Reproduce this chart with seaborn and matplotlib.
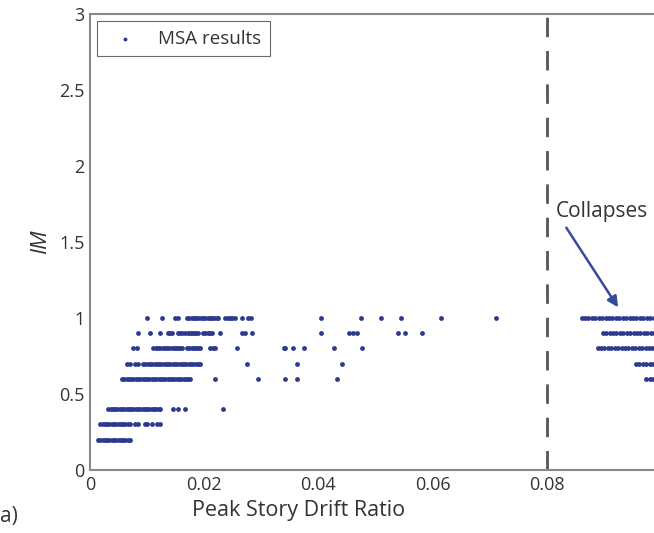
import matplotlib
matplotlib.use('Agg')
import matplotlib.pyplot as plt
import pandas as pd
import numpy as np
import seaborn as sb

# drift ratios, one list per IM level
drift_10 = [0.0100, 0.0126, 0.0149, 0.0154, 0.0170, 0.0174, 0.0178, 0.0182, 0.0186, 0.0190,
            0.0194, 0.0198, 0.0202, 0.0206, 0.0210, 0.0214, 0.0218, 0.0222, 0.0225, 0.0237,
            0.0241, 0.0245, 0.0249, 0.0254, 0.0267, 0.0277, 0.0282, 0.0404, 0.0474, 0.0509,
            0.0544, 0.0614, 0.0711]
drift_09 = [0.0084, 0.0105, 0.0123, 0.0137, 0.0141, 0.0144, 0.0154, 0.0158, 0.0161, 0.0167,
            0.0171, 0.0175, 0.0179, 0.0183, 0.0186, 0.0189, 0.0198, 0.0202, 0.0206, 0.0210,
            0.0214, 0.0228, 0.0267, 0.0272, 0.0284, 0.0404, 0.0453, 0.0460, 0.0468, 0.0540,
            0.0551, 0.0582]
drift_08 = [0.0075, 0.0082, 0.0111, 0.0115, 0.0119, 0.0123, 0.0127, 0.0131, 0.0135, 0.0139,
            0.0143, 0.0147, 0.0151, 0.0155, 0.0158, 0.0161, 0.0170, 0.0174, 0.0178, 0.0182,
            0.0186, 0.0190, 0.0193, 0.0211, 0.0215, 0.0219, 0.0258, 0.0339, 0.0342, 0.0356,
            0.0374, 0.0428, 0.0477]
drift_07 = [0.0065, 0.0070, 0.0079, 0.0084, 0.0093, 0.0097, 0.0101, 0.0105, 0.0109, 0.0113,
            0.0117, 0.0121, 0.0125, 0.0129, 0.0133, 0.0137, 0.0141, 0.0145, 0.0149, 0.0153,
            0.0157, 0.0161, 0.0165, 0.0169, 0.0173, 0.0177, 0.0181, 0.0185, 0.0189, 0.0193,
            0.0275, 0.0363, 0.0442]
drift_06 = [0.0056, 0.0060, 0.0064, 0.0068, 0.0072, 0.0076, 0.0080, 0.0084, 0.0088, 0.0092,
            0.0096, 0.0100, 0.0104, 0.0108, 0.0112, 0.0116, 0.0120, 0.0124, 0.0128, 0.0132,
            0.0136, 0.0140, 0.0144, 0.0148, 0.0152, 0.0156, 0.0160, 0.0164, 0.0168, 0.0172,
            0.0175, 0.0219, 0.0295, 0.0342, 0.0363, 0.0432]
drift_04 = [0.0032, 0.0036, 0.0040, 0.0044, 0.0048, 0.0052, 0.0056, 0.0060, 0.0064, 0.0068,
            0.0072, 0.0076, 0.0080, 0.0084, 0.0088, 0.0092, 0.0096, 0.0100, 0.0104, 0.0108,
            0.0112, 0.0116, 0.0120, 0.0123, 0.0146, 0.0154, 0.0167, 0.0233]
drift_03 = [0.0018, 0.0022, 0.0026, 0.0030, 0.0034, 0.0038, 0.0042, 0.0046, 0.0050, 0.0054,
            0.0058, 0.0062, 0.0066, 0.0070, 0.0079, 0.0084, 0.0096, 0.0100, 0.0109, 0.0118,
            0.0123]
drift_02 = [0.0014, 0.0018, 0.0022, 0.0026, 0.0030, 0.0034, 0.0038, 0.0042, 0.0046, 0.0050,
            0.0054, 0.0058, 0.0062, 0.0066, 0.0070]

# collapsed runs, drawn past the 0.08 line
coll_10 = [0.0861, 0.0867, 0.0873, 0.0879, 0.0885, 0.0891, 0.0897, 0.0903, 0.0909, 0.0915,
           0.0921, 0.0927, 0.0933, 0.0939, 0.0945, 0.0951, 0.0957, 0.0963, 0.0969, 0.0975,
           0.0981, 0.0987, 0.0993]
coll_09 = [0.0898, 0.0904, 0.0910, 0.0916, 0.0922, 0.0928, 0.0934, 0.0940, 0.0946, 0.0952,
           0.0958, 0.0964, 0.0970, 0.0976, 0.0982, 0.0988, 0.0994]
coll_08 = [0.0889, 0.0895, 0.0901, 0.0907, 0.0913, 0.0919, 0.0925, 0.0931, 0.0937, 0.0943,
           0.0949, 0.0955, 0.0961, 0.0967, 0.0973, 0.0979, 0.0985, 0.0991]
coll_07 = [0.0956, 0.0962, 0.0968, 0.0974, 0.0980, 0.0986, 0.0992]
coll_06 = [0.0974, 0.0980, 0.0986, 0.0992]

levels = [1.0, 0.9, 0.8, 0.7, 0.6, 0.4, 0.3, 0.2]
drifts = [drift_10, drift_09, drift_08, drift_07, drift_06, drift_04, drift_03, drift_02]
coll_levels = [1.0, 0.9, 0.8, 0.7, 0.6]
colls = [coll_10, coll_09, coll_08, coll_07, coll_06]

rows = []
for im, d in zip(levels, drifts):
    rows += [(x, im) for x in d]
for im, d in zip(coll_levels, colls):
    rows += [(x, im) for x in d]
df = pd.DataFrame(rows, columns=['drift', 'IM'])

sb.set_style('white')
plt.rcParams['font.family'] = ['Open Sans', 'DejaVu Sans']

fig = plt.figure(figsize=(6.54, 5.33), dpi=100)
ax = fig.add_axes([0.1376, 0.118, 0.873, 0.856])

blue = '#2b3990'
sb.scatterplot(data=df, x='drift', y='IM', ax=ax, color=blue, s=12, linewidth=0,
               marker='o', label='MSA results')
ax.axvline(0.08, color='#555555', lw=2, dashes=(7, 5))

ax.set_xlim(0, 0.1)
ax.set_ylim(0, 3)
ax.set_xticks([0, 0.02, 0.04, 0.06, 0.08])
ax.set_xticklabels(['0', '0.02', '0.04', '0.06', '0.08'])
ax.set_yticks([0, 0.5, 1, 1.5, 2, 2.5, 3])
ax.set_yticklabels(['0', '0.5', '1', '1.5', '2', '2.5', '3'])
ax.tick_params(direction='in', length=5, width=1, color='#888888', labelsize=13,
               labelcolor='#333333', pad=4)
for s in ax.spines.values():
    s.set_color('#888888')
    s.set_linewidth(1.5)

ax.set_xlabel('Peak Story Drift Ratio', fontsize=15.5, color='#333333', labelpad=2)
ax.xaxis.set_label_coords((299 - 90) / 571, -0.065)
ax.set_ylabel('IM', fontsize=16, style='italic', color='#333333', labelpad=6)

leg = ax.legend(loc='upper left', fontsize=13.5, frameon=True, fancybox=False,
                borderaxespad=0.4, handletextpad=0.8, markerscale=0.8,
                borderpad=0.45)
leg.get_frame().set_edgecolor('#444444')
leg.get_frame().set_linewidth(0.8)
for t in leg.get_texts():
    t.set_color('#333333')

ax.annotate('Collapses', xy=(0.0925, 1.07), xytext=(0.0815, 1.7),
            fontsize=15, color='#333333', va='center', ha='left',
            arrowprops=dict(arrowstyle='-|>', color='#3a4a9a', lw=1.8,
                            mutation_scale=16, shrinkA=2, shrinkB=0,
                            relpos=(0.08, 0.0)))

fig.text(0.0, 0.02, 'a)', fontsize=15, color='#333333')

plt.savefig('out.png', dpi=100)
